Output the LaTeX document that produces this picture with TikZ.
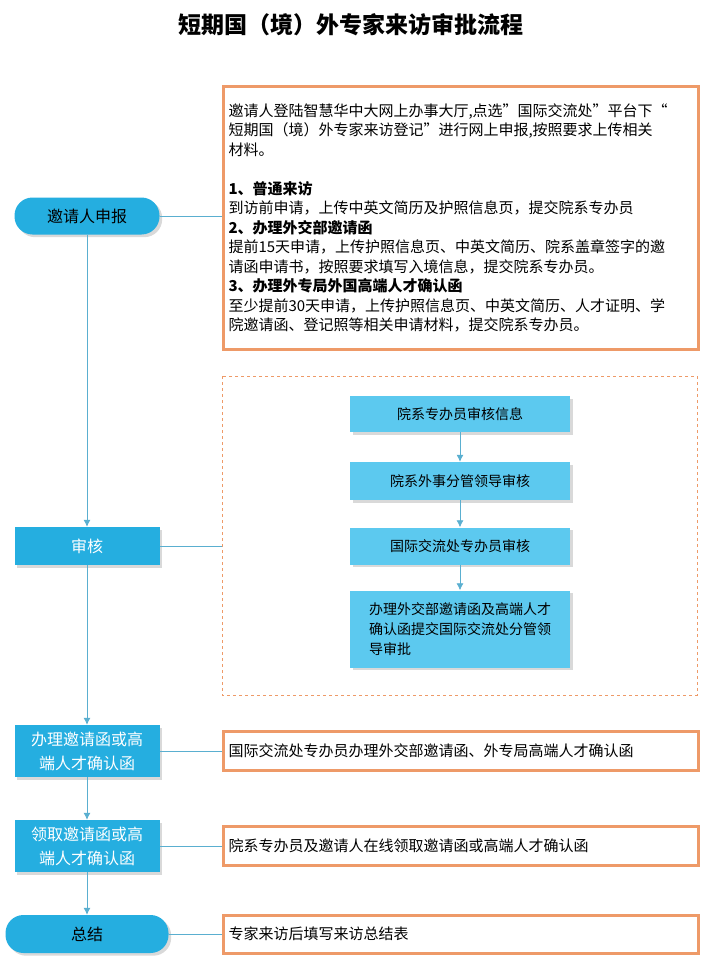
\documentclass[tikz,border=0pt]{standalone}
\usepackage{fontspec}
\setmainfont{Noto Sans CJK SC}
\usetikzlibrary{shadows}
\usetikzlibrary{arrows.meta}
\definecolor{flowblue}{HTML}{25AEE0}
\definecolor{lightblue}{HTML}{5CC9EF}
\definecolor{linkblue}{HTML}{5AAFD0}
\definecolor{frameorange}{HTML}{EE9A68}
\tikzset{
  stage/.style={fill=flowblue, draw=none, minimum width=145pt, align=center, font=\fontsize{16}{24}\selectfont, drop shadow={opacity=0.3}},
  pill/.style={stage, rounded corners=18pt},
  substep/.style={fill=lightblue, minimum width=220pt, align=left, font=\fontsize{14}{20}\selectfont, drop shadow={opacity=0.3}},
  notebox/.style={draw=frameorange, line width=3pt, fill=white, minimum width=475pt, anchor=west, align=left, text width=465pt, font=\fontsize{15}{19.5}\selectfont},
  link/.style={linkblue, line width=0.8pt},
  flow/.style={link, -{Latex[length=7pt,width=7pt]}}
}
\begin{document}
\begin{tikzpicture}[x=1pt,y=-1pt]
\useasboundingbox (0,0) rectangle (702,963);
\node[font=\bfseries\fontsize{23}{26}\selectfont] at (351,25) {短期国（境）外专家来访审批流程};
% left column
\node[pill, minimum height=37pt] (apply) at (87,216) {邀请人申报};
\node[stage, minimum height=38pt, text=white] (review) at (87,546) {审核};
\node[stage, minimum height=52pt, text=white] (handle) at (87,751) {办理邀请函或高\\端人才确认函};
\node[stage, minimum height=52pt, text=white] (fetch) at (87,846) {领取邀请函或高\\端人才确认函};
\node[pill, minimum width=163pt, minimum height=38pt] (sum) at (87,934) {总结};
\draw[flow] (apply) -- (review);
\draw[flow] (review) -- (handle);
\draw[flow] (handle) -- (fetch);
\draw[flow] (fetch) -- (sum);
% right column
\node[notebox, minimum height=263pt, anchor=north west] (note1) at (222,85) {%
邀请人登陆智慧华中大网上办事大厅,点选"国际交流处"平台下“\\
短期国（境）外专家来访登记”进行网上申报,按照要求上传相关\\
材料。\\[19.5pt]
\textbf{1、普通来访}\\
到访前申请，上传中英文简历及护照信息页，提交院系专办员\\
\textbf{2、办理外交部邀请函}\\
提前15天申请，上传护照信息页、中英文简历、院系盖章签字的邀\\
请函申请书，按照要求填写入境信息，提交院系专办员。\\
\textbf{3、办理外专局外国高端人才确认函}\\
至少提前30天申请，上传护照信息页、中英文简历、人才证明、学\\
院邀请函、登记照等相关申请材料，提交院系专办员。};
\draw[frameorange, dashed, line width=0.6pt] (222,376) rectangle (697,695);
\coordinate (panel) at (222,546);
\node[substep, minimum height=36pt] (s1) at (460,414) {院系专办员审核信息};
\node[substep, minimum height=38pt] (s2) at (460,481) {院系外事分管领导审核};
\node[substep, minimum height=37pt] (s3) at (460,546) {国际交流处专办员审核};
\node[substep, minimum height=77pt] (s4) at (460,629) {办理外交部邀请函及高端人才\\确认函提交国际交流处分管领\\导审批};
\draw[flow] (s1) -- (s2);
\draw[flow] (s2) -- (s3);
\draw[flow] (s3) -- (s4);
\node[notebox, minimum height=39pt] (note3) at (222,751) {国际交流处专办员办理外交部邀请函、外专局高端人才确认函};
\node[notebox, minimum height=39pt] (note4) at (222,846) {院系专办员及邀请人在线领取邀请函或高端人才确认函};
\node[notebox, minimum height=38pt] (note5) at (222,934) {专家来访后填写来访总结表};
\draw[link] (apply.east) -- (apply.east -| note1.west);
\draw[link] (review) -- (panel);
\draw[link] (handle) -- (note3);
\draw[link] (fetch) -- (note4);
\draw[link] (sum) -- (note5);
\end{tikzpicture}
\end{document}
